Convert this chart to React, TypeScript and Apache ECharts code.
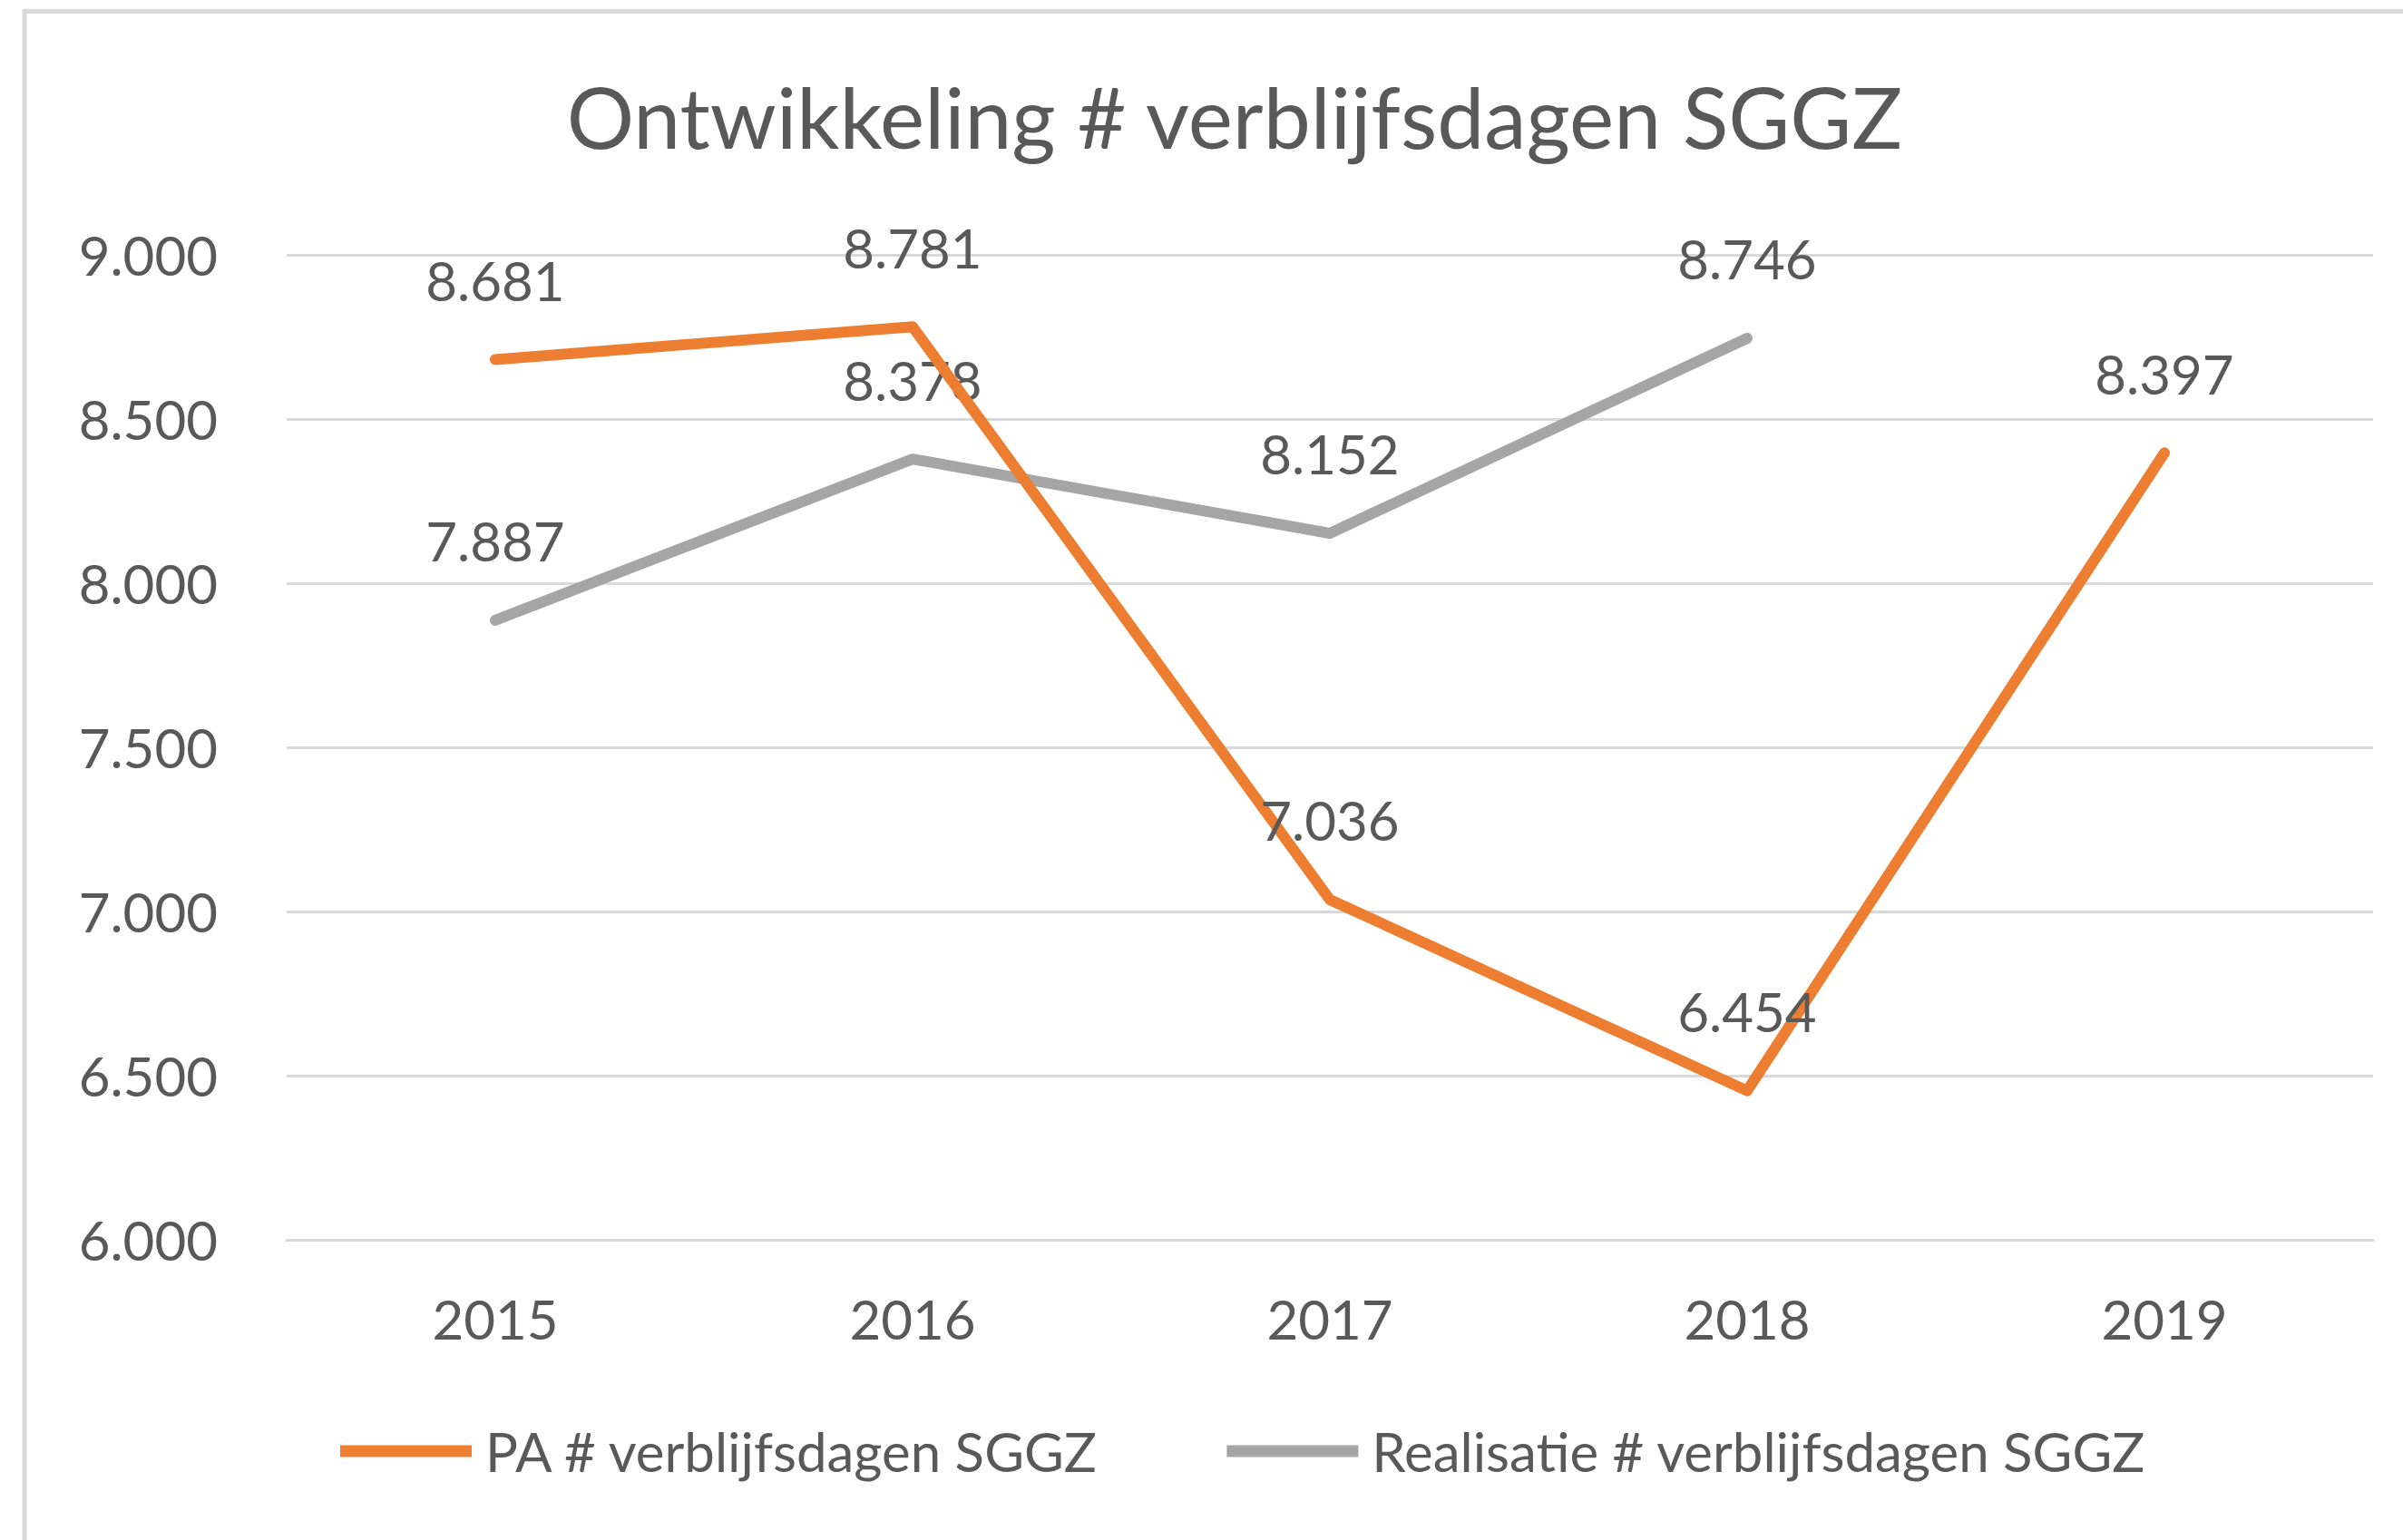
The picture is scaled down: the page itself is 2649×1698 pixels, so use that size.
import React, { useEffect, useRef } from "react";
import * as echarts from "echarts";

const titleText = "Ontwikkeling # verblijfsdagen SGGZ";
const years = ["2015", "2016", "2017", "2018", "2019"];
const paName = "PA # verblijfsdagen SGGZ";
const realName = "Realisatie # verblijfsdagen SGGZ";
const paValues = [8681, 8781, 7036, 6454, 8397];
const realValues: (number | null)[] = [7887, 8378, 8152, 8746, null];
const yMin = 6000;
const yMax = 9000;
const yStep = 500;

const FONT = "Lato";
const TEXT = "#595959";

function nl(v: number): string {
  const s = Math.round(v).toString();
  return s.replace(/\B(?=(\d{3})+(?!\d))/g, ".");
}

export default function App() {
  const ref = useRef<HTMLDivElement>(null);
  useEffect(() => {
    if (!ref.current) return;
    const chart = echarts.init(ref.current, null, { renderer: "svg" });
    const labelCfg = {
      show: true,
      position: "top",
      distance: 57,
      color: TEXT,
      fontFamily: FONT,
      fontSize: 60,
      formatter: (p: any) => nl(p.value),
    };
    chart.setOption({
      animation: false,
      backgroundColor: "#ffffff",
      textStyle: { fontFamily: FONT },
      title: {
        text: titleText,
        left: 1356,
        top: 76,
        textAlign: "center",
        textStyle: { color: TEXT, fontFamily: FONT, fontSize: 93, fontWeight: "normal" },
      },
      graphic: [
        {
          type: "rect",
          shape: { x: 27, y: 12.5, width: 2700, height: 1800 },
          style: { fill: "none", stroke: "#D9D9D9", lineWidth: 5 },
          silent: true,
        },
      ],
      legend: {
        left: 370,
        top: 1565,
        icon: "rect",
        itemWidth: 145,
        itemHeight: 13,
        itemGap: 140,
        textStyle: { color: TEXT, fontFamily: FONT, fontSize: 60, padding: [0, 0, 0, 10] },
        data: [paName, realName],
      },
      grid: { left: 316, right: 33, top: 281, bottom: 331, containLabel: false },
      xAxis: {
        type: "category",
        data: years,
        boundaryGap: true,
        axisLine: { show: true, lineStyle: { color: "#D9D9D9", width: 3 } },
        axisTick: { show: false },
        axisLabel: { color: TEXT, fontFamily: FONT, fontSize: 60, margin: 57 },
      },
      yAxis: {
        type: "value",
        min: yMin,
        max: yMax,
        interval: yStep,
        axisLine: { show: false },
        axisTick: { show: false },
        axisLabel: {
          color: TEXT,
          fontFamily: FONT,
          fontSize: 60,
          margin: 76,
          formatter: (v: number) => nl(v),
        },
        splitLine: { lineStyle: { color: "#D9D9D9", width: 3 } },
      },
      series: [
        {
          name: paName,
          type: "line",
          data: paValues,
          symbol: "circle",
          symbolSize: 1,
          itemStyle: { color: "#ED7D31" },
          lineStyle: { color: "#ED7D31", width: 12, cap: "round", join: "round" },
          label: labelCfg,
          z: 3,
        },
        {
          name: realName,
          type: "line",
          data: realValues,
          symbol: "circle",
          symbolSize: 1,
          itemStyle: { color: "#A5A5A5" },
          lineStyle: { color: "#A5A5A5", width: 12, cap: "round", join: "round" },
          label: labelCfg,
          z: 2,
        },
      ],
    });
    return () => chart.dispose();
  }, []);
  return (
    <div
      ref={ref}
      style={{ position: "absolute", left: 0, top: 0, width: 2649, height: 1698 }}
    />
  );
}
